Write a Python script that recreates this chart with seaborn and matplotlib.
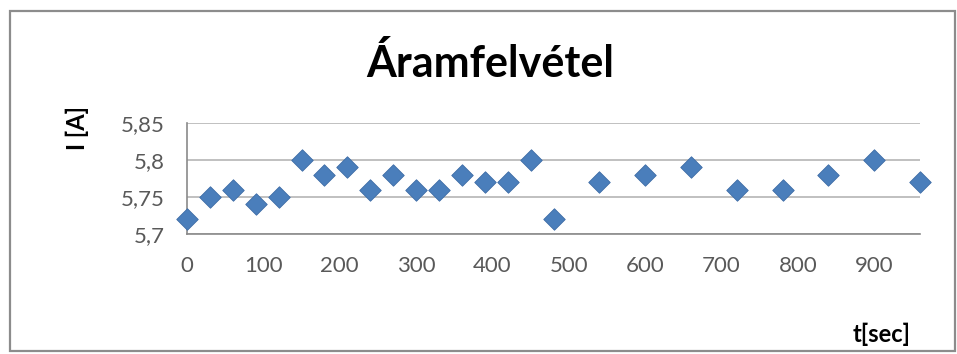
import numpy as np
import pandas as pd
import matplotlib
matplotlib.use('Agg')
import matplotlib.pyplot as plt
import seaborn as sns
from matplotlib.patches import Rectangle

# 测量数据
t_sec = [0, 30, 60, 90, 120, 150, 180, 210, 240, 270, 300, 330, 360,
         390, 420, 450, 480, 540, 600, 660, 720, 780, 840, 900, 960]
current_a = [5.72, 5.75, 5.76, 5.74, 5.75, 5.80, 5.78, 5.79, 5.76, 5.78, 5.76, 5.76, 5.78,
             5.77, 5.77, 5.80, 5.72, 5.77, 5.78, 5.79, 5.76, 5.76, 5.78, 5.80, 5.77]

x_ticks = [0, 100, 200, 300, 400, 500, 600, 700, 800, 900]
y_ticks = [5.7, 5.75, 5.8, 5.85]
y_tick_labels = ['5,7', '5,75', '5,8', '5,85']

title = 'Áramfelvétel'
x_label = 't[sec]'
y_label = 'I [A]'

df = pd.DataFrame({'t': t_sec, 'I': current_a})

sns.set_style('white')
plt.rcParams['font.family'] = ['Lato', 'DejaVu Sans']

W, H = 957, 354
fig = plt.figure(figsize=(W / 100, H / 100), dpi=100)

# 外框
fig.patches.append(Rectangle((10 / W, 3 / H), 945 / W, (343 - 3) / H,
                             transform=fig.transFigure, fill=False,
                             edgecolor='#8c8c8c', linewidth=1.6))

ax = fig.add_axes([187 / W, 1 - 234 / H, (920 - 187) / W, (234 - 123) / H])

sns.scatterplot(data=df, x='t', y='I', ax=ax, marker='D', s=120,
                color='#4a7ebb', edgecolor='#3d6ca6', linewidth=0.6,
                clip_on=False, zorder=3)

ax.set_xlim(0, 960)
ax.set_ylim(5.7, 5.85)
ax.set_xticks(x_ticks)
ax.set_yticks(y_ticks)
ax.set_yticklabels(y_tick_labels)

ax.grid(axis='y', color='#b5b5b5', linewidth=1.2)
ax.grid(axis='x', visible=False)
ax.set_axisbelow(True)

for side in ['top', 'right']:
    ax.spines[side].set_visible(False)
for side in ['left', 'bottom']:
    ax.spines[side].set_color('#8a8a8a')
    ax.spines[side].set_linewidth(1.2)

ax.tick_params(axis='both', colors='#8a8a8a', labelcolor='#595959',
               labelsize=16, length=6, width=1.2, direction='out')
ax.tick_params(axis='x', pad=10)
ax.tick_params(axis='y', pad=10)
ax.set_xlabel('')
ax.set_ylabel('')

fig.text(490 / W, 1 - 77 / H, title, ha='center', va='baseline',
         fontsize=31, fontweight='bold', color='black')
fig.text(77 / W, 1 - 128 / H, y_label, ha='center', va='center', rotation=90,
         fontsize=17, fontweight='bold', color='black')
fig.text(882 / W, 1 - 334 / H, x_label, ha='center', va='center',
         fontsize=17, fontweight='bold', color='black')

fig.savefig('out.png', dpi=100, facecolor='white')
